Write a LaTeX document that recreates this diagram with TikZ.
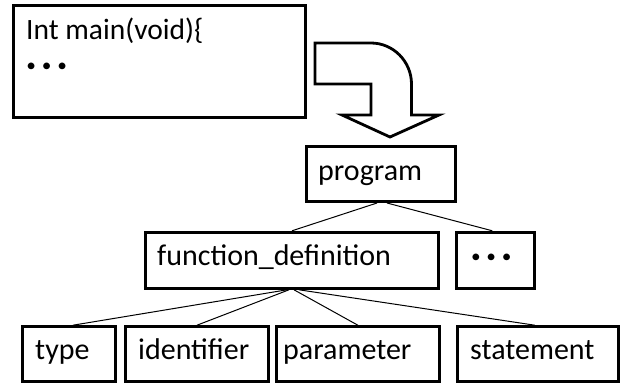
\documentclass[tikz,border=0pt]{standalone}
\usepackage{fontspec}
\setmainfont{Carlito}
\newcommand{\mydots}{\textbf{·}\hspace{5.8pt}\textbf{·}\hspace{5.8pt}\textbf{·}}
\begin{document}
\begin{tikzpicture}[x=1pt,y=-1pt,
  box/.style={draw,line width=3pt,inner sep=0pt,minimum width=#1},
  lbl/.style={anchor=base west,inner sep=0pt,font=\fontsize{30}{36}\selectfont},
  dotlbl/.style={anchor=base,inner sep=0pt,font=\fontsize{36}{40}\selectfont},
  conn/.style={line width=1pt},
  bigarrow/.style={draw,line width=2.8pt,line join=miter}]
\useasboundingbox (0,0) rectangle (625,383);
% boxes
\node[box=292.5pt,minimum height=111.5pt] (src) at (159.25,61.25) {};
\node[box=149pt,minimum height=55pt] (prog) at (381,174) {};
\node[box=293pt,minimum height=56pt] (fd) at (292,260.3) {};
\node[box=77.7pt,minimum height=56pt] (more) at (495.35,260.3) {};
\node[box=93.4pt,minimum height=54.3pt] (type) at (69,353.85) {};
\node[box=142.6pt,minimum height=54.3pt] (ident) at (197,353.85) {};
\node[box=162.3pt,minimum height=54.3pt] (param) at (357.85,353.85) {};
\node[box=161pt,minimum height=54.3pt] (stmt) at (537.8,353.85) {};
% labels
\node[lbl,font=\fontsize{29.5}{36}\selectfont] (srct) at (26,39) {Int main(void)\{};
\node[dotlbl] (srcd) at (46.7,76.8) {\mydots};
\node[lbl] (progt) at (318,180) {program};
\node[lbl] (fdt) at (157,265) {function\_definition};
\node[dotlbl] (moret) at (491.3,267.8) {\mydots};
\node[lbl] (typet) at (35,359) {type};
\node[lbl] (identt) at (138,359) {identifier};
\node[lbl] (paramt) at (283,359) {parameter};
\node[lbl] (stmtt) at (470,359) {statement};
% big arrow
\draw[bigarrow] (315,43) -- (371,43) .. controls (393.4,43) and (411.5,61.6) .. (411.5,84)
  -- (411.5,115) -- (439,115) -- (390,137) -- (342,115) -- (371,115) -- (371,84) -- (315,84) -- cycle;
% connectors
\draw[conn] ([xshift=-4pt]prog.south) -- (fd.north);
\draw[conn] ([xshift=6pt]prog.south) -- ([xshift=-3pt]more.north);
\draw[conn] ([xshift=-5pt]fd.south) -- ([xshift=4pt]type.north);
\draw[conn] ([xshift=-3pt]fd.south) -- (ident.north);
\draw[conn] ([xshift=2pt]fd.south) -- (param.north);
\draw[conn] ([xshift=7pt]fd.south) -- ([xshift=-3pt]stmt.north);
\end{tikzpicture}
\end{document}
